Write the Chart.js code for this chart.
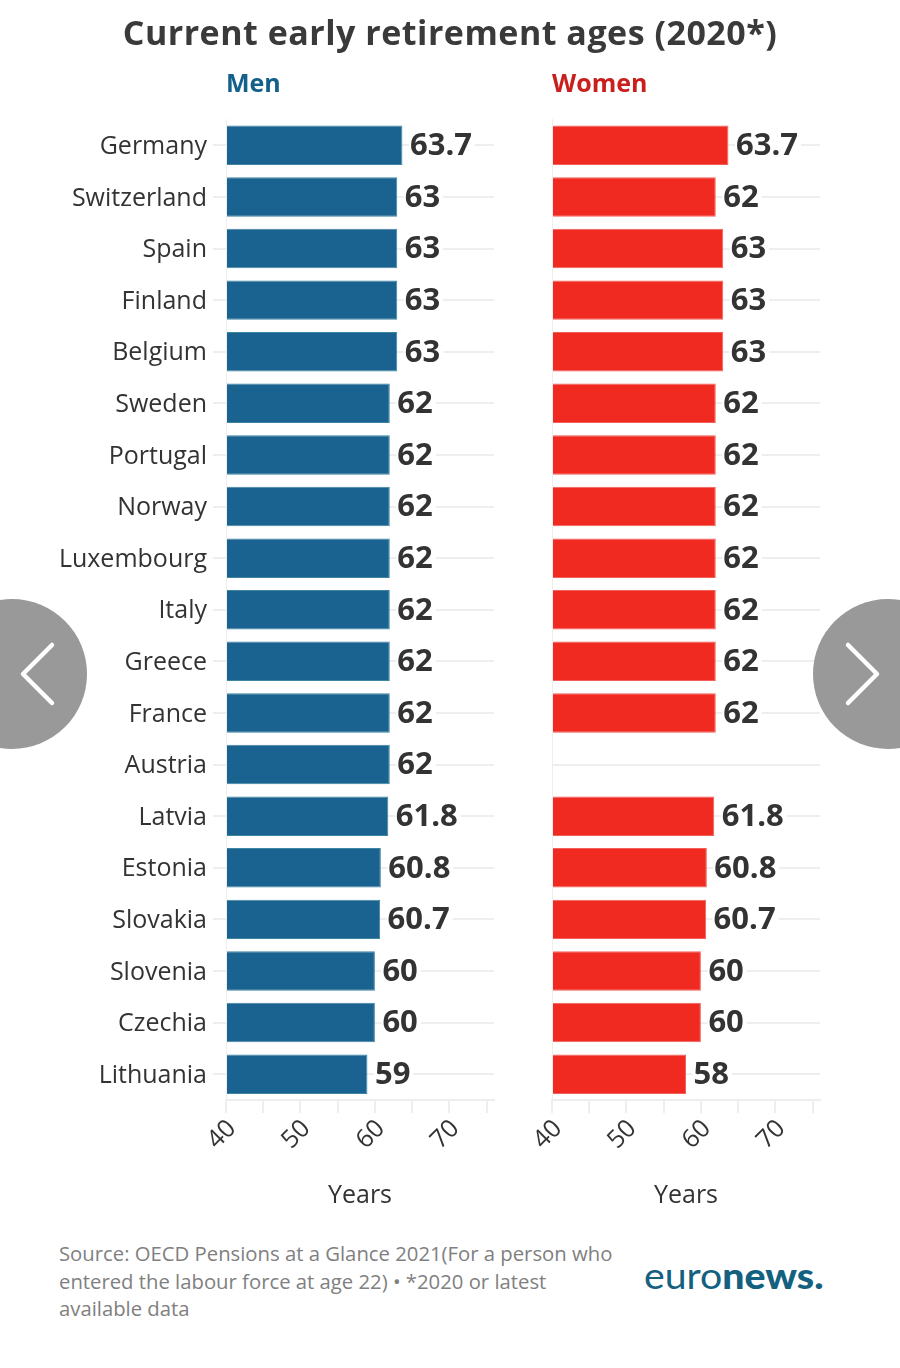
<!DOCTYPE html>
<html><head><meta charset="utf-8">
<script src="https://cdn.jsdelivr.net/npm/chart.js@4"></script>
<style>
html,body{margin:0;padding:0;background:#fff;width:900px;height:1368px;overflow:hidden;font-family:"Open Sans",sans-serif}
canvas{position:absolute;top:0}
.t{position:absolute;white-space:nowrap}
#title{left:0;width:900px;text-align:center;top:9px;font-size:34px;font-weight:700;color:#3a3a3a;letter-spacing:.5px}
.sub{top:65px;font-size:25px;font-weight:700}
#source{left:59px;top:1240px;font-size:20.3px;line-height:27.5px;color:#808080}
#logo{left:644px;top:1253px;font-family:Lato,sans-serif;font-size:36px;color:#13607f;transform:scaleX(1.09);transform-origin:left center;font-weight:400}
#logo b{font-weight:900}
svg{position:absolute;top:595px}
</style></head><body>
<canvas id="men" width="500" height="1211" style="left:0;width:500px;height:1211px"></canvas>
<canvas id="women" width="340" height="1211" style="left:500px;width:340px;height:1211px"></canvas>
<div class="t" id="title">Current early retirement ages (2020*)</div>
<div class="t sub" style="left:226px;color:#14608a">Men</div>
<div class="t sub" style="left:552px;color:#c9201d">Women</div>
<div class="t" id="source">Source: OECD Pensions at a Glance 2021(For a person who<br>entered the labour force at age 22) • *2020 or latest<br>available data</div>
<div class="t" id="logo">euro<b>news.</b></div>
<svg width="100" height="160" style="left:0"><circle cx="12" cy="79" r="75" fill="#999"/><path d="M52 50 L23 79 L52 108" fill="none" stroke="#fff" stroke-width="4.5" stroke-linecap="round" stroke-linejoin="round"/></svg>
<svg width="100" height="160" style="left:800px"><circle cx="88" cy="79" r="75" fill="#999"/><path d="M48 50 L77 79 L48 108" fill="none" stroke="#fff" stroke-width="4.5" stroke-linecap="round" stroke-linejoin="round"/></svg>
<script>
const countries=["Germany","Switzerland","Spain","Finland","Belgium","Sweden","Portugal","Norway","Luxembourg","Italy","Greece","France","Austria","Latvia","Estonia","Slovakia","Slovenia","Czechia","Lithuania"];
const menValues=[63.7,63,63,63,63,62,62,62,62,62,62,62,62,61.8,60.8,60.7,60,60,59];
const womenValues=[63.7,62,63,63,63,62,62,62,62,62,62,62,null,61.8,60.8,60.7,60,60,58];
const xMin=40,xMax=76,xStep=5;
const labelTicks=[40,50,60,70];
const FONT='"Open Sans",sans-serif';
const valueLabels={id:'valueLabels',
 beforeDraw(c){
  const s=c.scales.x;
  s._labelItems=s._computeLabelItems(c.chartArea);
  s._labelItems.forEach(it=>{it.options.translation[0]+=6;it.options.translation[1]-=2;});
  const y=c.scales.y;
  y._labelItems=y._computeLabelItems(c.chartArea);
  y._labelItems.forEach(it=>{it.options.translation[0]-=1;it.options.translation[1]+=1.5;});
 },
 afterDatasetsDraw(c){
  const g=c.ctx,m=c.getDatasetMeta(0);
  g.save();g.font='700 31px '+FONT;g.textBaseline='middle';g.textAlign='left';
  m.data.forEach((b,i)=>{
    const v=c.data.datasets[0].data[i];
    if(v==null)return;
    const s=String(v),w=g.measureText(s).width,x=b.x+7.5;
    g.fillStyle='#fff';g.fillRect(x-1,b.y-14,w+4,28);
    g.fillStyle='#333';g.fillText(s,x,b.y+1);
  });
  g.restore();
 }};
function make(id,values,color,border,left,right,yWidth){
  return new Chart(document.getElementById(id),{
    type:'bar',
    data:{labels:countries,datasets:[{data:values,backgroundColor:color,borderColor:border,borderWidth:1,barPercentage:.765,categoryPercentage:1,base:xMin}]},
    options:{indexAxis:'y',responsive:false,animation:false,
      layout:{padding:{left:left,right:right,top:119.5,bottom:0}},
      plugins:{legend:{display:false},tooltip:{enabled:false}},
      scales:{
        x:{type:'linear',min:xMin,max:xMax,
          afterBuildTicks(a){const t=[];for(let v=xMin;v<=xMax;v+=xStep)t.push({value:v});a.ticks=t;},
          afterFit(a){a.height=111;a.paddingLeft=0;a.paddingRight=0;},
          grid:{color:'#eeeeee',lineWidth:2,drawOnChartArea:false,tickLength:13,tickColor:'#eeeeee'},
          border:{color:'#eeeeee',width:2},
          ticks:{autoSkip:false,maxRotation:45,minRotation:45,padding:3,color:'#333',font:{family:FONT,size:25},
            callback:v=>labelTicks.includes(v)?String(v):''},
          title:{display:true,text:'Years',color:'#333',font:{family:FONT,size:25},padding:{top:16,bottom:0}}
        },
        y:{type:'category',offset:true,
          afterFit(a){a.width=yWidth;},
          grid:{offset:false,color:'#eeeeee',lineWidth:2,tickLength:yWidth?13:0,tickColor:'#eeeeee'},
          border:{color:'#eeeeee',width:1},
          ticks:{display:yWidth>0,autoSkip:false,padding:5,color:'#333',font:{family:FONT,size:25}}
        }
      }
    },
    plugins:[valueLabels]
  });
}
make('men',menValues,'#1a6391','#3f84a2',0,6,226);
make('women',womenValues,'#f02a20','#f2605a',52,20,0);
</script>
</body></html>
